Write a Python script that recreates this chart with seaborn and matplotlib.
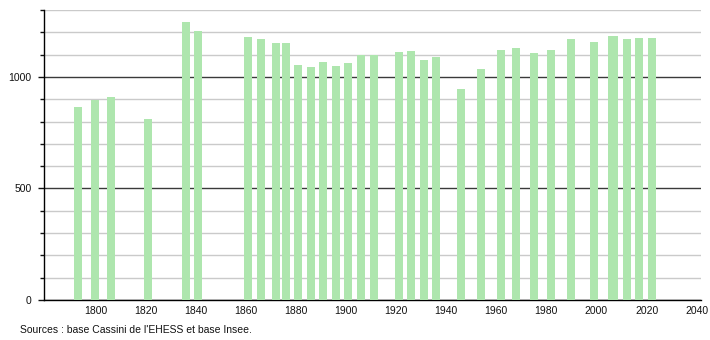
import matplotlib
matplotlib.use("Agg")
import matplotlib.pyplot as plt
from matplotlib.ticker import MultipleLocator
import seaborn as sns
import pandas as pd

years = [1793, 1800, 1806, 1821, 1836, 1841, 1861, 1866, 1872, 1876, 1881, 1886,
         1891, 1896, 1901, 1906, 1911, 1921, 1926, 1931, 1936, 1946, 1954, 1962,
         1968, 1975, 1982, 1990, 1999, 2006, 2007, 2012, 2017, 2022]
population = [866, 896, 911, 811, 1245, 1207, 1177, 1172, 1150, 1150, 1055, 1043,
              1069, 1051, 1064, 1099, 1099, 1111, 1117, 1075, 1088, 947, 1034, 1120,
              1129, 1106, 1120, 1169, 1155, 1182, 1182, 1169, 1174, 1174]
x_ticks = list(range(1800, 2041, 20))
y_labelled = [0, 500, 1000]
caption = "Sources : base Cassini de l'EHESS et base Insee."

sns.set_theme(style="white")
plt.rcParams["font.family"] = ["Liberation Sans", "DejaVu Sans"]

df = pd.DataFrame({"year": years, "pop": population})

fig = plt.figure(figsize=(7.1, 3.4), dpi=100)
ax = fig.add_axes([44 / 710, 1 - 300 / 340, (700.7 - 44) / 710, 290 / 340])

sns.barplot(data=df, x="year", y="pop", native_scale=True, width=3.2,
            color="#aee6ae", saturation=1, linewidth=0, ax=ax, zorder=3)

ax.set_xlim(1779.45, 2041.6)
ax.set_ylim(0, 1300)
ax.set_xlabel("")
ax.set_ylabel("")

ax.set_xticks(x_ticks)
ax.set_xticklabels([str(t) for t in x_ticks])
ax.set_yticks(y_labelled)
ax.set_yticklabels([str(t) for t in y_labelled])
ax.yaxis.set_minor_locator(MultipleLocator(100))

ax.tick_params(axis="x", which="both", length=0, pad=4, labelsize=7.5, colors="#111111")
ax.tick_params(axis="y", which="major", left=True, length=4, width=1, pad=5,
               labelsize=7.5, colors="#111111", direction="out")
ax.tick_params(axis="y", which="minor", left=True, length=3, width=1,
               colors="#111111", direction="out")

ax.set_axisbelow(True)
ax.grid(False)
ax.yaxis.grid(True, which="major", color="#3a3a3a", linewidth=1.0)
ax.yaxis.grid(True, which="minor", color="#cacaca", linewidth=1.0)

for s in ["top", "right"]:
    ax.spines[s].set_visible(False)
for s in ["left", "bottom"]:
    ax.spines[s].set_visible(True)
    ax.spines[s].set_color("#000000")
    ax.spines[s].set_linewidth(1.0)

fig.text(20 / 710, 1 - 330 / 340, caption, fontsize=7.5, color="#111111",
         ha="left", va="center")

fig.savefig("out.png", dpi=100, facecolor="white")
